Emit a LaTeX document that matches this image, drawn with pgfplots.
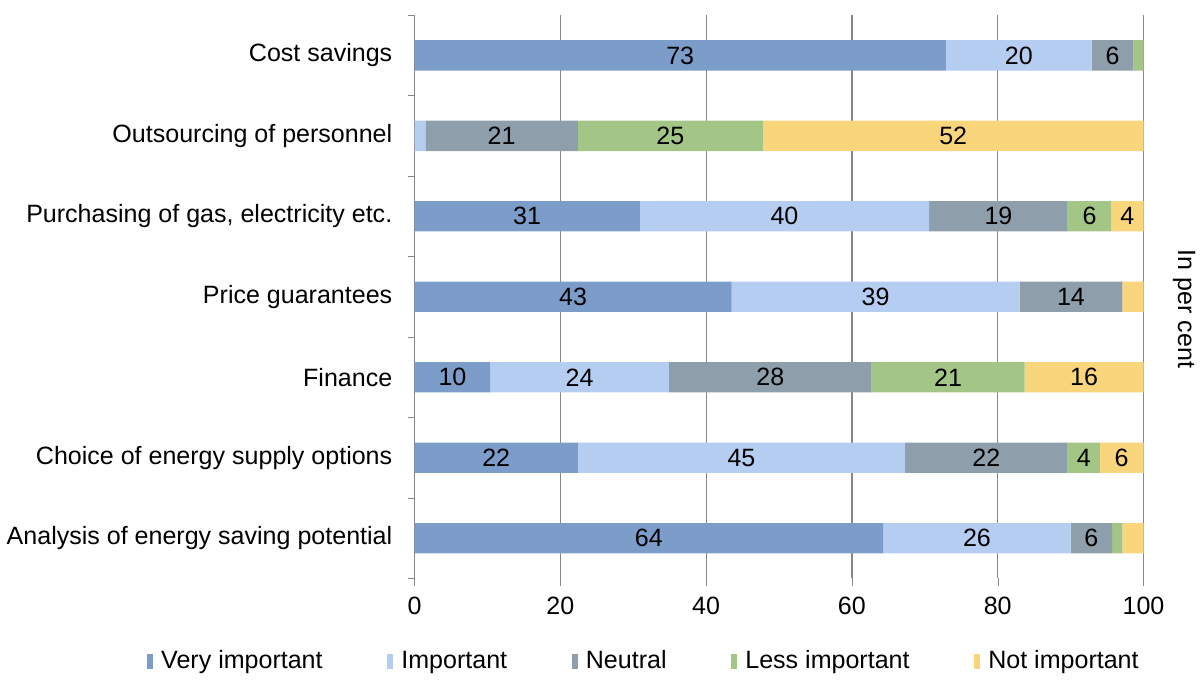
\documentclass[border=0pt]{standalone}
\usepackage{fontspec}
\setmainfont{Liberation Sans}
\usepackage{pgfplots}
\usepackage{pgfplotstable}
\pgfplotsset{compat=1.18}
\definecolor{cvi}{HTML}{7C9DCA}
\definecolor{cim}{HTML}{B5CDF1}
\definecolor{cne}{HTML}{8E9EAA}
\definecolor{cle}{HTML}{A3C585}
\definecolor{cno}{HTML}{F9D57C}
\definecolor{gridc}{HTML}{878787}
\pgfplotstableread{
y vi im ne le no vil iml nel lel nol
0 64.3 25.7 5.7 1.4 2.9 64 26 6 0 0
1 22.4 44.9 22.3 4.4 6.0 22 45 22 4 6
2 10.4 24.5 27.8 21.0 16.3 10 24 28 21 16
3 43.5 39.5 14.1 0 2.9 43 39 14 0 0
4 30.9 39.7 19.0 6.0 4.4 31 40 19 6 4
5 0 1.5 20.9 25.4 52.2 0 0 21 25 52
6 72.9 20.0 5.7 1.4 0 73 20 6 0 0
}\data
\begin{document}
\begin{tikzpicture}[font=\fontsize{12.4}{15}\selectfont]
\begin{axis}[
  /pgf/number format/assume math mode=true,
  xbar stacked, bar width=15pt,
  scale only axis, width=361pt, height=279pt,
  xmin=0, xmax=100, ymin=-0.5, ymax=6.5,
  xtick={0,20,...,100},
  ytick={0,...,6},
  yticklabels={Analysis of energy saving potential,Choice of energy supply options,Finance,Price guarantees,{Purchasing of gas, electricity etc.},Outsourcing of personnel,Cost savings},
  minor ytick={-0.5,0.5,...,6.5},
  every major y tick/.style={draw=none},
  minor tick length=3pt,
  major tick length=3.5pt,
  tick align=outside,
  tick style={gridc},
  xmajorgrids, grid style={gridc, line width=0.6pt},
  axis lines*=left,
  x axis line style={draw=none},
  y axis line style={gridc, line width=0.6pt},
  yticklabel style={xshift=-4pt},
  xticklabel style={yshift=-2pt},
  ylabel={In per cent},
  ylabel style={at={([xshift=11pt,yshift=-6pt]rel axis cs:1,0.5)}, rotate=180, anchor=south},
  nodes near coords={\pgfmathfloatifflags{\pgfplotspointmeta}{0}{}{\pgfmathprintnumber{\pgfplotspointmeta}}},
  every node near coord/.append style={anchor=center, text=black},
  legend style={at={(0.316,-0.147)}, anchor=center, legend columns=-1, draw=none, fill=none,
    /tikz/every even column/.append style={column sep=30pt}},
  legend image code/.code={\fill[#1] (0pt,-3.6pt) rectangle (3pt,3.6pt); \path (5pt,0pt);},
  legend cell align=left,
]
\addplot[fill=cvi, draw=none, point meta=\thisrow{vil}] table[x=vi,y=y] {\data};
\addplot[fill=cim, draw=none, point meta=\thisrow{iml}] table[x=im,y=y] {\data};
\addplot[fill=cne, draw=none, point meta=\thisrow{nel}] table[x=ne,y=y] {\data};
\addplot[fill=cle, draw=none, point meta=\thisrow{lel}] table[x=le,y=y] {\data};
\addplot[fill=cno, draw=none, point meta=\thisrow{nol}] table[x=no,y=y] {\data};
\legend{Very important,Important,Neutral,Less important,Not important}
\end{axis}
\path ([yshift=7.5pt]current axis.north);
\end{tikzpicture}
\end{document}
